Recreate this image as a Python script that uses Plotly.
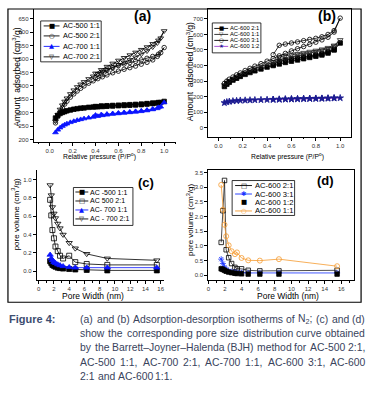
import plotly.graph_objects as go

W, H = 372, 397

# ---------------- data: panel (a) N2 isotherms ----------------
A_P_ADS = [0.05, 0.07, 0.09, 0.11, 0.13, 0.15, 0.18, 0.21, 0.24, 0.27, 0.30, 0.34, 0.38,
           0.42, 0.46, 0.50, 0.55, 0.60, 0.65, 0.70, 0.75, 0.80, 0.85, 0.90, 0.94, 0.97, 1.0]
A_P_DES = [0.95, 0.90, 0.85, 0.80, 0.75, 0.70, 0.65, 0.60, 0.55, 0.50, 0.45, 0.40]
A_500_11_ADS = [280, 290, 297, 301, 304, 307, 310, 313, 315, 317, 318, 320, 321,
                322, 323, 324, 325, 326, 327, 328, 329, 330, 332, 334, 336, 338, 342]
A_500_11_DES = [338, 336, 334, 332, 331, 330, 329, 328, 327, 326, 325, 323]
A_500_21_ADS = [262, 285, 303, 318, 332, 343, 358, 370, 381, 391, 400, 410, 419,
                427, 434, 441, 449, 455, 462, 468, 474, 481, 488, 497, 510, 524, 543]
A_500_21_DES = [518, 510, 503, 497, 492, 487, 482, 476, 468, 458, 445, 430]
A_700_11_ADS = [226, 236, 244, 250, 255, 259, 264, 268, 272, 275, 278, 281, 284,
                287, 290, 292, 295, 297, 299, 301, 303, 305, 308, 312, 316, 322, 338]
A_700_11_DES = [320, 314, 310, 307, 305, 303, 301, 299, 297, 295, 293, 291]
A_700_21_ADS = [268, 292, 312, 328, 342, 354, 370, 384, 396, 406, 415, 426, 436,
                445, 453, 461, 470, 479, 488, 497, 507, 518, 530, 545, 560, 578, 605]
A_700_21_DES = [570, 557, 545, 535, 525, 515, 505, 495, 484, 472, 460, 447]

# ---------------- data: panel (b) ----------------
B_P_ADS = [0.05, 0.07, 0.09, 0.12, 0.15, 0.18, 0.22, 0.26, 0.30, 0.35, 0.40, 0.45,
           0.50, 0.55, 0.60, 0.65, 0.70, 0.75, 0.80, 0.85, 0.90, 0.95, 1.0]
B_P_DES = [0.95, 0.90, 0.85, 0.80, 0.75, 0.70, 0.65, 0.60, 0.55, 0.50, 0.45]
B_600_21_ADS = [265, 280, 292, 306, 318, 330, 343, 355, 366, 378, 390, 400,
                410, 420, 428, 436, 444, 452, 460, 468, 480, 500, 545]
B_600_21_DES = [505, 488, 476, 468, 461, 455, 448, 442, 435, 428, 405]
B_600_11_ADS = [275, 290, 302, 316, 330, 342, 356, 369, 381, 395, 408, 420,
                432, 442, 452, 461, 470, 479, 488, 497, 508, 525, 565]
B_600_11_DES = [530, 515, 505, 497, 490, 483, 476, 470, 463, 455, 425]
B_600_31_ADS = [285, 300, 312, 326, 340, 352, 368, 382, 396, 412, 428, 445,
                462, 478, 494, 508, 522, 536, 550, 565, 582, 615, 705]
B_600_31_DES = [625, 600, 585, 575, 568, 560, 552, 545, 538, 530, 470]
B_600_12_ADS = [160, 165, 168, 171, 173, 175, 176, 177, 178, 179, 180, 181,
                182, 183, 184, 185, 186, 187, 187, 188, 189, 190, 191]
B_600_12_DES = [190, 189, 188, 188, 187, 186, 185, 184, 183, 182, 181]

# ---------------- data: panel (c) BJH ----------------
C_W = [1.5, 1.65, 1.8, 2.0, 2.2, 2.5, 2.8, 3.2, 4.0, 4.8, 6.3, 9.0, 15.5]
C_500_11 = [0.11, 0.09, 0.07, 0.06, 0.05, 0.04, 0.035, 0.03, 0.025, 0.02, 0.015, 0.01, 0.01]
C_500_21 = [0.78, 0.61, 0.45, 0.36, 0.27, 0.22, 0.17, 0.14, 0.17, 0.10, 0.08, 0.07, 0.07]
C_700_11 = [0.18, 0.14, 0.12, 0.10, 0.09, 0.075, 0.065, 0.055, 0.045, 0.04, 0.04, 0.04, 0.04]
C_700_21 = [0.94, 0.83, 0.70, 0.63, 0.58, 0.52, 0.47, 0.40, 0.31, 0.25, 0.19, 0.14, 0.12]

# ---------------- data: panel (d) BJH ----------------
D_W = [1.55, 1.75, 1.95, 2.15, 2.45, 2.8, 3.2, 3.45, 4.0, 4.8, 6.2, 8.5, 15.5]
D_600_21 = [1.12, 2.2, 3.23, 0.87, 0.60, 0.40, 0.27, 0.22, 0.22, 0.17, 0.15, 0.15, 0.17]
D_600_31 = [0.55, 0.40, 0.28, 0.20, 0.15, 0.12, 0.10, 0.09, 0.09, 0.08, 0.08, 0.08, 0.08]
D_600_12 = [0.22, 0.20, 0.17, 0.14, 0.11, 0.09, 0.07, 0.06, 0.05, 0.04, 0.04, 0.04, 0.04]
D_600_11 = [3.08, 2.23, 1.72, 1.33, 1.02, 0.82, 0.72, 0.78, 0.59, 0.51, 0.50, 0.55, 0.31]

CAPTION_LABEL = "Figure 4:"
CAPTION_LINES = [
    "(a) and (b) Adsorption-desorption isotherms of N<sub>2</sub>; (c) and (d)",
    "show the corresponding pore size distribution curve obtained",
    "by the Barrett\u2013Joyner\u2013Halenda (BJH) method for AC-500 2:1,",
    "AC-500 1:1, AC-700 2:1, AC-700 1:1, AC-600 3:1, AC-600",
    "2:1 and AC-600 1:1.",
]

# ---------------- helpers ----------------
def px(x):
    return x / W


def py(y):
    return 1 - y / H


fig = go.Figure()


def add_series(x, y, ax, sym, col, size=4.5, lcol=None, mode="lines+markers", lw=0.8):
    fig.add_trace(go.Scatter(
        x=x, y=y, xaxis="x" + ax, yaxis="y" + ax, mode=mode, showlegend=False,
        line=dict(color=lcol or col, width=lw),
        marker=dict(symbol=sym, size=size, color=col, line=dict(color=col, width=0.8)),
    ))


# panel (a)
add_series(A_P_ADS + A_P_DES, A_500_11_ADS + A_500_11_DES, "", "square", "black")
add_series(A_P_ADS + A_P_DES, A_500_21_ADS + A_500_21_DES, "", "circle-open", "black")
add_series(A_P_ADS + A_P_DES, A_700_11_ADS + A_700_11_DES, "", "triangle-up", "#0a14ff", 5)
add_series(A_P_ADS + A_P_DES, A_700_21_ADS + A_700_21_DES, "", "triangle-down-open", "black", 5)

# panel (b)
add_series(B_P_ADS + B_P_DES, B_600_21_ADS + B_600_21_DES, "2", "square", "black", 4.5)
add_series(B_P_ADS + B_P_DES, B_600_11_ADS + B_600_11_DES, "2", "triangle-down-open", "#222", 5)
add_series(B_P_ADS + B_P_DES, B_600_31_ADS + B_600_31_DES, "2", "circle-open", "black", 4.5)
add_series(B_P_ADS + B_P_DES, B_600_12_ADS + B_600_12_DES, "2", "star", "#1c1c90", 5, lcol="#a040d0")

# panel (c)
add_series(C_W, C_500_11, "3", "square", "black", 5)
add_series(C_W, C_500_21, "3", "square-open", "black", 5)
add_series(C_W, C_700_11, "3", "triangle-up", "#0a14ff", 5.5)
add_series(C_W, C_700_21, "3", "triangle-down-open", "black", 5.5)

# panel (d)
add_series(D_W, D_600_21, "4", "square-open", "black", 4.5, lcol="#222")
add_series(D_W, D_600_31, "4", "asterisk-open", "#1530ff", 5)
add_series(D_W, D_600_12, "4", "square", "black", 4.5, mode="markers")
add_series(D_W, D_600_11, "4", "circle-open", "#f59a30", 5)

# ---------------- axes ----------------
TICKFONT = dict(family="Liberation Sans, Arial, sans-serif", size=6, color="#333")


def axis(domain, rng, dtick, anchor, minor=None, mirror=False, fmt=None):
    d = dict(domain=domain, range=rng, dtick=dtick, tick0=0, anchor=anchor,
             showline=True, linecolor="black", linewidth=1, mirror=mirror,
             ticks="outside", ticklen=3, tickwidth=0.8, tickcolor="black",
             tickfont=TICKFONT, showgrid=False, zeroline=False)
    if minor:
        d["minor"] = dict(dtick=minor, ticks="outside", ticklen=1.5, tickcolor="black")
    if fmt:
        d["tickformat"] = fmt
    return d


fig.update_layout(
    xaxis=axis([px(32), px(175)], [-0.14, 1.1], 0.2, "y", 0.1, fmt=".1f"),
    yaxis=axis([py(142), py(9)], [192, 687], 50, "x"),
    xaxis2=axis([px(208), px(352)], [-0.082, 1.09], 0.2, "y2", 0.1, True, fmt=".1f"),
    yaxis2=axis([py(137), py(9)], [-58, 764], 100, "x2", None, True),
    xaxis3=axis([px(35), px(163)], [-0.26, 16.4], 2, "y3", 1),
    yaxis3=axis([py(281), py(170)], [-0.098, 1.11], 0.2, "x3", None, fmt=".1f"),
    xaxis4=axis([px(208), px(355)], [0, 17.55], 2, "y4", 1, True),
    yaxis4=axis([py(281), py(170)], [-0.17, 3.6], 0.5, "x4", None, True, fmt=".1f"),
)

shapes = []
annots = []


def text(x, y, s, size, color="black", xanchor="center", angle=0, bold=False,
         family="Liberation Sans, Arial, sans-serif"):
    annots.append(dict(x=px(x), y=py(y), xref="paper", yref="paper", text=(f"<b>{s}</b>" if bold else s),
                       showarrow=False, xanchor=xanchor, yanchor="middle", textangle=angle,
                       borderpad=0, font=dict(size=size, color=color, family=family)))


# outer frame
shapes.append(dict(type="rect", xref="paper", yref="paper", x0=px(6), x1=px(362), y0=py(303), y1=py(9),
                   line=dict(color="black", width=1.2)))

# panel letters
text(142, 16, "(a)", 14, bold=True)
text(328, 16, "(b)", 14, bold=True)
text(145, 183, "(c)", 13, bold=True)
text(326, 181, "(d)", 13, bold=True)

# axis titles
text(15, 77, "Amount  adsorbed (cm<sup>3</sup>/g)", 8.5, angle=-90)
text(190, 72, "Amount  adsorbed (cm<sup>3</sup>/g)", 8.5, angle=-90)
text(98, 157, "Relative pressure (P/P<sup>o</sup>)", 6.8)
text(288, 157, "Relative pressure (P/P<sup>o</sup>)", 6.8)
text(92, 296.5, "Pore Width (nm)", 8.5)
text(288, 296.5, "Pore Width (nm)", 8.5)
text(14, 215, "pore volume (cm<sup>3</sup>/g)", 8, angle=-90)
text(190, 220, "pore volume (cm<sup>3</sup>/g)", 8, angle=-90)


# legends (drawn as decorations)
def legend(box, rows, items, lx0, lx1, tx, fs, gs):
    x0, y0, x1, y1 = box
    shapes.append(dict(type="rect", xref="paper", yref="paper", x0=px(x0), x1=px(x1), y0=py(y1), y1=py(y0),
                       line=dict(color="black", width=0.8), fillcolor="white"))
    for (label, lcol, mcol, glyph, has_line), ry in zip(items, rows):
        if has_line:
            shapes.append(dict(type="line", xref="paper", yref="paper", x0=px(lx0), x1=px(lx1),
                               y0=py(ry), y1=py(ry), line=dict(color=lcol, width=0.9)))
        text((lx0 + lx1) / 2, ry, glyph, gs, color=mcol, family="DejaVu Sans")
        text(tx, ry, label, fs, xanchor="left")


legend((39, 21, 100, 62), [26, 36, 46.5, 57],
       [("AC-500 1:1", "black", "black", "\u25a0", True),
        ("AC-500 2:1", "black", "black", "\u25cb", True),
        ("AC-700 1:1", "#0a14ff", "#0a14ff", "\u25b2", True),
        ("AC-700 2:1", "black", "black", "\u25bd", True)],
       42, 58, 60, 7.3, 6.5)
legend((212, 23, 261, 53), [28.5, 34.5, 40.5, 46.5],
       [("AC-600 2:1", "black", "black", "\u25a0", True),
        ("AC-600 1:1", "#222", "#222", "\u25bd", True),
        ("AC-600 3:1", "black", "black", "\u25cb", True),
        ("AC-600 1:2", "#a040d0", "#1c1c90", "\u2605", True)],
       214, 228, 229, 5.8, 5.5)
legend((72, 188, 132, 226), [192.5, 201.5, 210.5, 219.5],
       [("AC -500 1:1", "black", "black", "\u25a0", True),
        ("AC 500 2:1", "black", "black", "\u25a1", True),
        ("AC- 700 1:1", "#0a14ff", "#0a14ff", "\u25b2", True),
        ("AC - 700 2:1", "black", "black", "\u25bd", True)],
       74, 87, 88, 7, 6.5)
legend((232, 181, 295, 216), [186, 194.5, 203, 211.5],
       [("AC-600 2:1", "black", "black", "\u25a1", True),
        ("AC-600 3:1", "#1530ff", "#1530ff", "\u2731", True),
        ("AC-600 1:2", "black", "black", "\u25a0", False),
        ("AC-600 1:1", "#f59a30", "#f59a30", "\u25cb", True)],
       235, 252, 254, 7.6, 6.5)

# ---------------- caption (justified by Arial/Liberation metrics) ----------------
ARIAL = {" ": 278, "a": 556, "b": 556, "c": 500, "d": 556, "e": 556, "f": 278, "g": 556, "h": 556,
         "i": 222, "j": 222, "k": 500, "l": 222, "m": 833, "n": 556, "o": 556, "p": 556, "q": 556,
         "r": 333, "s": 500, "t": 278, "u": 556, "v": 500, "w": 722, "x": 500, "y": 500, "z": 500,
         "A": 667, "B": 667, "C": 722, "D": 722, "E": 667, "F": 611, "G": 778, "H": 722, "I": 278,
         "J": 500, "K": 667, "L": 556, "M": 833, "N": 722, "O": 778, "P": 667, "Q": 778, "R": 722,
         "S": 667, "T": 611, "U": 722, "V": 667, "W": 944, "X": 667, "Y": 667, "Z": 611,
         "(": 333, ")": 333, "-": 333, ":": 278, ";": 278, ",": 278, ".": 278, "\u2013": 556, "/": 278}


def word_width(w, size):
    total = 0.0
    sub = False
    i = 0
    while i < len(w):
        if w.startswith("<sub>", i):
            sub = True
            i += 5
            continue
        if w.startswith("</sub>", i):
            sub = False
            i += 6
            continue
        ch = w[i]
        cw = ARIAL.get(ch, 556)
        total += cw * (0.7 if sub else 1.0)
        i += 1
    return total * size / 1000.0


CAP_FONT = "Liberation Sans, Arial, sans-serif"
CAP_COLOR = "#39435c"
CAP_SIZE = 10.4
CAP_X0, CAP_X1 = 78, 365
text(6, 320, CAPTION_LABEL, 11, color="#3d4d70", xanchor="left", bold=True, family=CAP_FONT)
cap_y = [320, 334.3, 348.6, 363, 377.3]
for i, (line, yy) in enumerate(zip(CAPTION_LINES, cap_y)):
    words = line.split(" ")
    widths = [word_width(w, CAP_SIZE) for w in words]
    space = ARIAL[" "] * CAP_SIZE / 1000.0
    if i < len(CAPTION_LINES) - 1 and len(words) > 1:
        gap = max(space * 0.8, (CAP_X1 - CAP_X0 - sum(widths)) / (len(words) - 1))
    else:
        gap = space
    xcur = CAP_X0
    for w, wd in zip(words, widths):
        text(xcur, yy, w, CAP_SIZE, color=CAP_COLOR, xanchor="left", family=CAP_FONT)
        xcur += wd + gap

fig.update_layout(
    width=W, height=H, margin=dict(l=0, r=0, t=0, b=0),
    paper_bgcolor="white", plot_bgcolor="white", showlegend=False,
    shapes=shapes, annotations=annots,
)

fig.write_html("out.html", config={"displayModeBar": False},
               post_script="document.body.style.margin='0';document.body.style.overflow='hidden';")
